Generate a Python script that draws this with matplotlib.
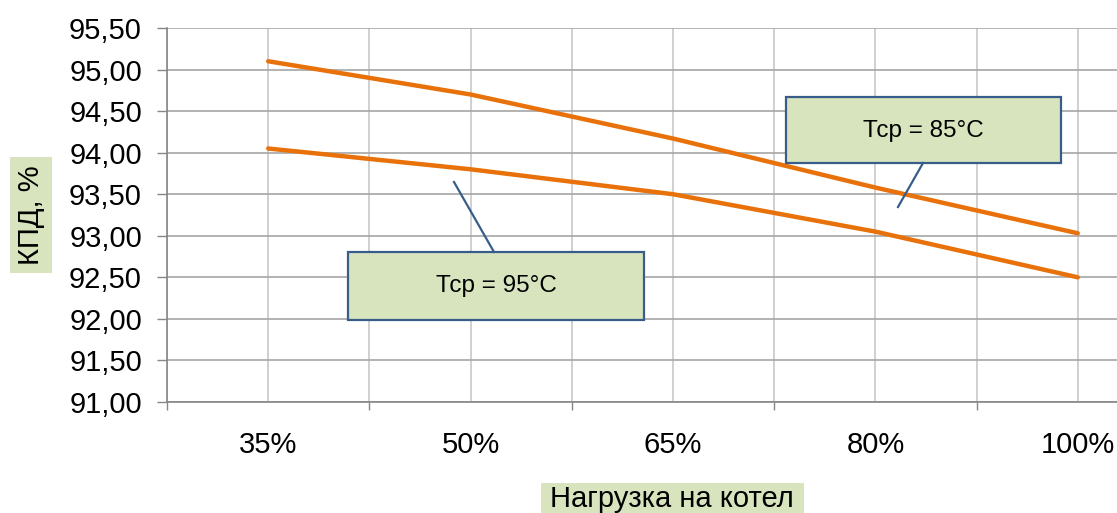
import numpy as np
import matplotlib
matplotlib.use("Agg")
import matplotlib.pyplot as plt
from matplotlib.patches import Rectangle
from matplotlib.lines import Line2D
from matplotlib.ticker import FuncFormatter

plt.rcParams['font.family'] = ['Liberation Sans', 'DejaVu Sans']

# Daten
load = ["35%", "50%", "65%", "80%", "100%"]
kpd_85 = [95.10, 94.70, 94.17, 93.58, 93.03]
kpd_95 = [94.05, 93.80, 93.50, 93.05, 92.50]

W, H = 1117, 513
orange = "#E8710A"
green = "#D7E4BD"
blue = "#385D8A"

fig = plt.figure(figsize=(W / 100, H / 100), dpi=100)
ax = fig.add_axes([167 / W, (H - 402) / H, (1179 - 167) / W, (402 - 28) / H])

x = np.arange(len(load))
ax.plot(x, kpd_85, color=orange, lw=3.2, solid_capstyle="round", solid_joinstyle="round", zorder=3)
ax.plot(x, kpd_95, color=orange, lw=3.2, solid_capstyle="round", solid_joinstyle="round", zorder=3)

ax.set_xlim(-0.5, len(load) - 0.5)
ax.set_ylim(91, 95.5)
ax.set_yticks(np.arange(91, 95.51, 0.5))
ax.yaxis.set_major_formatter(FuncFormatter(lambda v, p: f"{v:.2f}".replace(".", ",")))

ax.set_xticks(np.arange(-0.5, len(load), 1.0))
ax.set_xticklabels([])
ax.set_xticks(x, minor=True)
ax.set_xticklabels(load, minor=True)

ax.tick_params(axis="y", which="major", length=7, width=1, color="#868686",
               labelsize=21, pad=11)
ax.tick_params(axis="x", which="major", length=6, width=1, color="#868686")
ax.tick_params(axis="x", which="minor", length=0, labelsize=21, pad=21)

ax.grid(True, axis="y", color="#A6A6A6", lw=1.2)
ax.grid(True, axis="x", which="both", color="#C8C8C8", lw=1.2)
ax.set_axisbelow(True)

for s in ["top", "right"]:
    ax.spines[s].set_visible(False)
for s in ["left", "bottom"]:
    ax.spines[s].set_color("#868686")
    ax.spines[s].set_linewidth(1.2)


def px(xp, yp):
    return xp / W, 1 - yp / H


def box(x0, y0, x1, y1, edge=None):
    fx, fy = px(x0, y1)
    r = Rectangle((fx, fy), (x1 - x0) / W, (y1 - y0) / H, transform=fig.transFigure,
                  facecolor=green, edgecolor=edge if edge else "none",
                  lw=1.6 if edge else 0, zorder=5)
    fig.add_artist(r)


def pointer(xa, ya, xb, yb):
    (fa, ga), (fb, gb) = px(xa, ya), px(xb, yb)
    fig.add_artist(Line2D([fa, fb], [ga, gb], transform=fig.transFigure,
                          color=blue, lw=1.6, zorder=5))


# Beschriftungen
box(786, 97, 1061, 163, edge=blue)
pointer(923, 163, 898, 207)
fig.text(*px(923, 131), "Тср = 85°C", fontsize=17.5, ha="center", va="center", zorder=6)

box(348, 252, 644, 320, edge=blue)
pointer(494, 252, 454, 182)
fig.text(*px(496, 286), "Тср = 95°C", fontsize=17.5, ha="center", va="center", zorder=6)

# Achsentitel
box(541, 483, 804, 520)
fig.text(*px(672, 499), "Нагрузка на котел", fontsize=21, ha="center", va="center", zorder=6)

box(10, 157, 52, 273)
fig.text(*px(31, 215), "КПД, %", fontsize=21, rotation=90, ha="center", va="center", zorder=6)

fig.savefig("out.png", dpi=100)
